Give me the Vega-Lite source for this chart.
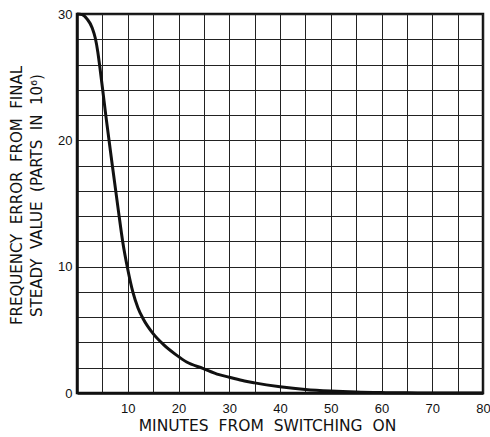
{
  "$schema": "https://vega.github.io/schema/vega-lite/v6.json",
  "width": 406,
  "height": 379,
  "autosize": {"type": "none"},
  "padding": {"left": 77, "top": 14, "right": 7, "bottom": 44},
  "background": "white",
  "config": {
    "view": {"stroke": "#111", "strokeWidth": 2.5},
    "font": "Liberation Sans",
    "axis": {
      "labelFont": "Liberation Sans",
      "titleFont": "DejaVu Sans",
      "labelColor": "#111",
      "titleColor": "#111",
      "labelFontSize": 13,
      "titleFontSize": 15,
      "titleFontWeight": "normal",
      "gridColor": "#222",
      "gridWidth": 1,
      "gridOpacity": 1,
      "domainColor": "#111",
      "domainWidth": 2.5,
      "ticks": false
    }
  },
  "data": {
    "values": [
      {"t": 0, "e": 30},
      {"t": 1, "e": 29.95},
      {"t": 2, "e": 29.6},
      {"t": 3, "e": 28.9},
      {"t": 3.6, "e": 28.1},
      {"t": 4.1, "e": 27.0},
      {"t": 4.5, "e": 25.8},
      {"t": 5, "e": 24.2},
      {"t": 5.7, "e": 21.9},
      {"t": 7, "e": 17.9},
      {"t": 8.2, "e": 14.3},
      {"t": 9, "e": 12.0},
      {"t": 10, "e": 9.8},
      {"t": 11, "e": 8.0},
      {"t": 12, "e": 6.75},
      {"t": 13, "e": 5.9},
      {"t": 15, "e": 4.7},
      {"t": 17, "e": 3.85},
      {"t": 19.6, "e": 3.0},
      {"t": 21.6, "e": 2.45},
      {"t": 24.8, "e": 1.95},
      {"t": 28, "e": 1.45},
      {"t": 30, "e": 1.25},
      {"t": 33, "e": 0.95},
      {"t": 35, "e": 0.8},
      {"t": 40, "e": 0.5},
      {"t": 45, "e": 0.28},
      {"t": 50, "e": 0.15},
      {"t": 55, "e": 0.07},
      {"t": 60, "e": 0.03},
      {"t": 65, "e": 0.01},
      {"t": 70, "e": 0},
      {"t": 80, "e": 0}
    ]
  },
  "mark": {"type": "line", "color": "#111", "strokeWidth": 3, "interpolate": "monotone"},
  "encoding": {
    "x": {
      "field": "t",
      "type": "quantitative",
      "scale": {"domain": [0, 80], "nice": false, "zero": false},
      "axis": {
        "values": [0,5,10,15,20,25,30,35,40,45,50,55,60,65,70,75,80],
        "labelExpr": "datum.value % 10 == 0 && datum.value > 0 ? datum.label : ''",
        "labelPadding": 9,
        "labelFlush": false,
        "title": "MINUTES\u00a0\u00a0FROM\u00a0\u00a0SWITCHING\u00a0\u00a0ON",
        "titlePadding": 3,
        "titleX": 190,
        "titleAlign": "center",
        "titleFontSize": 15.5
      }
    },
    "y": {
      "field": "e",
      "type": "quantitative",
      "scale": {"domain": [0, 30], "nice": false},
      "axis": {
        "values": [0,2,4,6,8,10,12,14,16,18,20,22,24,26,28,30],
        "labelExpr": "datum.value % 10 == 0 ? datum.label : ''",
        "labelPadding": 5,
        "labelFlush": false,
        "title": ["FREQUENCY\u00a0\u00a0ERROR\u00a0\u00a0FROM\u00a0\u00a0FINAL", "STEADY\u00a0\u00a0VALUE\u00a0\u00a0(PARTS\u00a0\u00a0IN\u00a0\u00a010⁶)"],
        "titleAngle": -90,
        "titleAlign": "center",
        "titleX": -53,
        "titleY": 181,
        "titleLineHeight": 20
      }
    }
  }
}
